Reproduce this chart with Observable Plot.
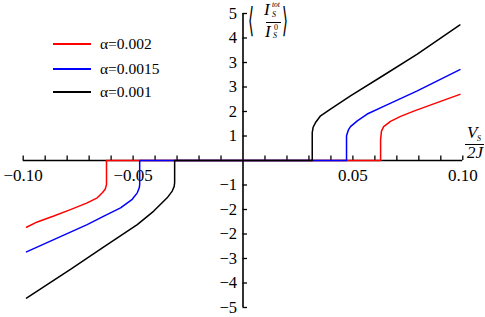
<!DOCTYPE html>
<html><head><meta charset="utf-8">
<script src="https://cdn.jsdelivr.net/npm/d3@7"></script>
<script src="https://cdn.jsdelivr.net/npm/@observablehq/plot@0.6"></script>
<style>
body{margin:0;background:#fff;}
#wrap{position:relative;width:485px;height:317px;font-family:"Liberation Serif","Times New Roman",serif;color:#000;overflow:hidden;}
#wrap svg{position:absolute;left:0;top:0;}
.t{position:absolute;white-space:nowrap;line-height:1;}
.it{font-style:italic;}
.br{position:absolute;white-space:nowrap;font-family:"DejaVu Serif",serif;font-size:34px;line-height:normal;transform:scaleX(0.45);transform-origin:left top;}
.bar{position:absolute;height:1px;background:#000;}
.leg{position:absolute;left:53px;display:flex;align-items:center;font-size:15.5px;height:18px;}
.leg .sw{width:38px;height:1.6px;margin-right:9px;}
</style></head><body><div id="wrap"></div>
<script>
// Series
const series = ["α=0.002", "α=0.0015", "α=0.001"];
const colors = ["#ff0000", "#0000ff", "#000000"];

const redX = [-0.0985, -0.0936, -0.0861, -0.0785, -0.0709, -0.0663, -0.064, -0.0627, -0.0621, -0.0621, 0.0626, 0.0626, 0.063, 0.064, 0.0671, 0.0717, 0.0777, 0.0883, 0.0987];
const redY = [-2.27, -2.09, -1.89, -1.67, -1.44, -1.27, -1.1, -0.98, -0.82, 0, 0, 0.72, 1.0, 1.15, 1.33, 1.5, 1.68, 1.97, 2.25];

const blueX = [-0.0985, -0.0861, -0.0709, -0.0633, -0.0557, -0.0504, -0.0481, -0.0472, -0.047, -0.047, 0.0471, 0.0471, 0.0479, 0.0489, 0.052, 0.0565, 0.064, 0.0793, 0.0987];
const blueY = [-3.11, -2.69, -2.18, -1.89, -1.61, -1.32, -1.1, -0.93, -0.82, 0, 0, 0.84, 1.03, 1.15, 1.35, 1.58, 1.84, 2.37, 3.09];

const blackX = [-0.0985, -0.0785, -0.0633, -0.0481, -0.0406, -0.0345, -0.0322, -0.0313, -0.0311, -0.0311, 0.0315, 0.0315, 0.0319, 0.033, 0.0353, 0.0398, 0.0489, 0.064, 0.0793, 0.0987];
const blackY = [-4.68, -3.7, -2.94, -2.18, -1.72, -1.27, -1.04, -0.88, -0.75, 0, 0, 0.95, 1.13, 1.29, 1.52, 1.75, 2.2, 2.9, 3.62, 4.61];

// Axes
const xTicks = [-0.10, -0.09, -0.08, -0.07, -0.06, -0.05, -0.04, -0.03, -0.02, -0.01, 0.01, 0.02, 0.03, 0.04, 0.05, 0.06, 0.07, 0.08, 0.09, 0.10];
const xLabelValues = [-0.10, -0.05, 0.05, 0.10];
const xLabels = ["\u22120.10", "\u22120.05", "0.05", "0.10"];
const yTicks = [-5, -4.167, -3.333, -2.5, -1.667, -0.833, 0.833, 1.667, 2.5, 3.333, 4.167, 5];
const yLabels = ["\u22125", "\u22124", "\u22123", "\u22122", "\u22122", "\u22121", "1", "2", "3", "3", "4", "5"];

const rows = [];
[[redX, redY], [blueX, blueY], [blackX, blackY]].forEach(([xs, ys], k) => {
  xs.forEach((x, i) => rows.push({s: series[k], x, y: ys[i]}));
});

const xExt = d3.extent(xTicks), yExt = d3.extent(yTicks);

const plot = Plot.plot({
  width: 485, height: 317,
  marginLeft: 22.7, marginRight: 22.7, marginTop: 13, marginBottom: 10,
  x: {domain: xExt, axis: null},
  y: {domain: yExt, axis: null},
  color: {domain: series, range: colors},
  style: {fontFamily: "'Liberation Serif', 'Times New Roman', serif", background: "white", overflow: "visible"},
  marks: [
    Plot.ruleY([0], {x1: xExt[0], x2: xExt[1], stroke: "#000", strokeWidth: 1.6}),
    Plot.ruleX([0], {y1: yExt[0], y2: yExt[1], stroke: "#000", strokeWidth: 1.6}),
    Plot.ruleX(xTicks, {x: d => d, y1: 0, y2: 0, insetTop: -4.5, stroke: "#000", strokeWidth: 1.3}),
    Plot.ruleY(yTicks, {y: d => d, x1: 0, x2: 0, insetRight: -4.5, stroke: "#000", strokeWidth: 1.3}),
    Plot.text(xLabelValues, {x: d => d, y: 0, text: (d, i) => xLabels[i], dy: 15, fontSize: 17, fill: "#000"}),
    Plot.text(yTicks, {x: 0, y: d => d, text: (d, i) => yLabels[i], textAnchor: "end", dx: -6, fontSize: 16.5, fill: "#000"}),
    Plot.line(rows, {x: "x", y: "y", z: "s", stroke: "s", strokeWidth: 1.5, curve: "linear"})
  ]
});

const wrap = document.getElementById("wrap");
wrap.appendChild(plot);

// legend
const legY = [44, 69, 92];
series.forEach((s, i) => {
  const d = document.createElement("div");
  d.className = "leg";
  d.style.top = (legY[i] - 9) + "px";
  d.innerHTML = `<span class="sw" style="background:${colors[i]}"></span><span>${s}</span>`;
  wrap.appendChild(d);
});

// axis labels
const html = `
<div class="br" style="left:248px;top:0px">\u27E8</div>
<div class="t it" style="left:264px;top:1px;font-size:17px">I</div>
<div class="t it" style="left:272px;top:1px;font-size:7.5px">tot</div>
<div class="t it" style="left:272px;top:11px;font-size:8px">S</div>
<div class="bar" style="left:266px;top:22px;width:15px"></div>
<div class="t it" style="left:265px;top:23px;font-size:17px">I</div>
<div class="t" style="left:274px;top:24px;font-size:8px">0</div>
<div class="t it" style="left:273px;top:32px;font-size:8px">S</div>
<div class="br" style="left:282px;top:0px">\u27E9</div>

<div class="t it" style="left:467px;top:124px;font-size:17px">V</div>
<div class="t it" style="left:477px;top:135px;font-size:8px">S</div>
<div class="bar" style="left:465px;top:144px;width:19px"></div>
<div class="t it" style="left:467px;top:144px;font-size:17px">2J</div>
`;
wrap.insertAdjacentHTML("beforeend", html);
</script>
</body></html>
